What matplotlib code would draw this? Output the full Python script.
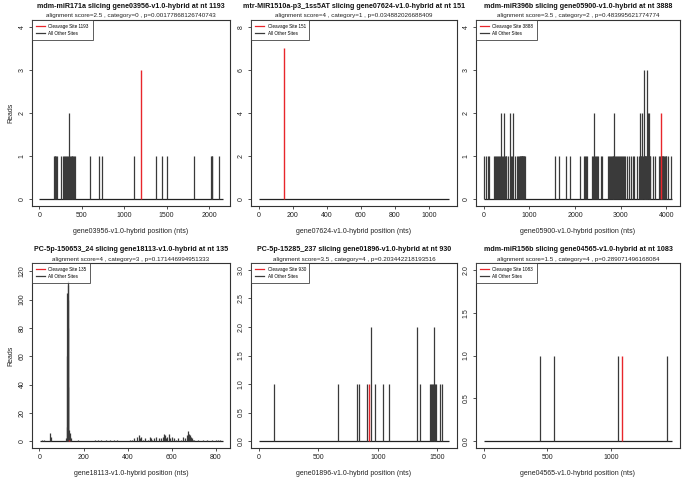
"""Six slicing t-plots (R type='h' style), reads per transcript position"""
import numpy as np
import matplotlib.pyplot as plt

plt.rcParams['font.family'] = ['Liberation Sans', 'DejaVu Sans']

# panel titles / subtitles / x labels
titles = ['mdm-miR171a slicing gene03956-v1.0-hybrid at nt 1193',
          'mtr-MIR1510a-p3_1ss5AT slicing gene07624-v1.0-hybrid at nt 151',
          'mdm-miR396b slicing gene05900-v1.0-hybrid at nt 3888',
          'PC-5p-150653_24 slicing gene18113-v1.0-hybrid at nt 135',
          'PC-5p-15285_237 slicing gene01896-v1.0-hybrid at nt 930',
          'mdm-miR156b slicing gene04565-v1.0-hybrid at nt 1083']
subtitles = ['alignment score=2.5 , category=0 , p=0.00177868126740743',
             'alignment score=4 , category=1 , p=0.034882026688409',
             'alignment score=3.5 , category=2 , p=0.483995621774774',
             'alignment score=4 , category=3 , p=0.171446994951333',
             'alignment score=3.5 , category=4 , p=0.203442218193516',
             'alignment score=1.5 , category=4 , p=0.289071496168084']
genes = ['gene03956', 'gene07624', 'gene05900', 'gene18113', 'gene01896', 'gene04565']
gene_len = [2160, 1120, 4130, 830, 1600, 1480]
cleave_site = [1193, 151, 3888, 135, 930, 1083]
cleave_reads = [3, 7, 2, 1, 1, 1]
ymax = [4, 8, 4, 121, 3, 2]
xstep = [500, 200, 1000, 200, 500, 500]
ystep = [1, 2, 1, 20, 0.5, 0.5]

# other sites (position, reads)
p1_pos = [170, 180, 190, 200, 210, 260, 280, 290, 300, 310, 330, 340, 350, 360, 370,
          380, 390, 400, 410, 420, 600, 700, 740, 1110, 1380, 1440, 1510, 1820, 2020,
          2030, 2040, 2120]
p1_reads = [1, 1, 1, 1, 1, 1, 1, 1, 1, 1, 1, 1, 2, 1, 1,
            1, 1, 1, 1, 1, 1, 1, 1, 1, 1, 1, 1, 1, 1,
            1, 1, 1]

p2_pos = []
p2_reads = []

p3_pos = [20, 50, 100, 110, 220, 260, 280, 300, 320, 340, 360, 385, 400, 420, 443, 460,
          480, 500, 540, 582, 600, 620, 647, 680, 740, 760, 780, 790, 800, 810, 820, 830,
          840, 850, 860, 870, 880, 890, 900, 1560, 1660, 1800, 1880, 2100, 2200, 2220,
          2240, 2260, 2380, 2400, 2421, 2440, 2460, 2480, 2500, 2560, 2600, 2720, 2740,
          2760, 2780, 2800, 2820, 2840, 2857, 2880, 2900, 2920, 2940, 2960, 2980, 3000,
          3020, 3040, 3060, 3100, 3140, 3180, 3220, 3260, 3300, 3360, 3400, 3417, 3430,
          3440, 3450, 3460, 3475, 3490, 3504, 3510, 3520, 3530, 3540, 3550, 3560, 3570,
          3584, 3600, 3610, 3620, 3630, 3640, 3700, 3740, 3840, 3860, 3880, 3900, 3910,
          3920, 3930, 3940, 3960, 3980, 4000, 4040, 4100]
p3_reads = [1, 1, 1, 1, 1, 1, 1, 1, 1, 1, 1, 2, 1, 1, 2, 1,
            1, 1, 1, 2, 1, 1, 2, 1, 1, 1, 1, 1, 1, 1, 1, 1,
            1, 1, 1, 1, 1, 1, 1, 1, 1, 1, 1, 1, 1, 1,
            1, 1, 1, 1, 2, 1, 1, 1, 1, 1, 1, 1, 1,
            1, 1, 1, 1, 1, 2, 1, 1, 1, 1, 1, 1, 1,
            1, 1, 1, 1, 1, 1, 1, 1, 1, 1, 1, 2, 1,
            1, 1, 1, 2, 1, 3, 1, 1, 1, 1, 1, 1, 1,
            3, 2, 1, 2, 1, 1, 1, 1, 1, 1, 1, 1, 1,
            1, 1, 1, 1, 1, 1, 1, 1]

p4_pos = [10, 20, 50, 52, 122, 124, 126, 127, 128, 129, 130, 131, 132, 133, 138, 140,
          142, 175, 250, 265, 280, 300, 320, 340, 350, 410, 420, 430, 440, 450, 455,
          460, 470, 480, 490, 500, 505, 510, 520, 530, 540, 550, 560, 565, 570, 575,
          580, 585, 590, 600, 610, 620, 630, 640, 650, 660, 670, 675, 678, 680, 685,
          690, 695, 700, 720, 740, 760, 780, 800, 810, 820]
p4_reads = [1, 1, 6, 3, 2, 10, 60, 105, 113, 110, 100, 80, 38, 8, 6, 3,
            2, 1, 1, 1, 1, 1, 1, 1, 1, 1, 1, 2, 3, 4, 2,
            3, 1, 2, 1, 3, 2, 1, 2, 3, 2, 2, 3, 5, 4, 2,
            3, 5, 2, 3, 2, 1, 2, 1, 3, 2, 4, 7, 5, 4, 3,
            2, 1, 1, 1, 1, 1, 1, 1, 1, 1]

p5_pos = [130, 667, 822, 844, 906, 945, 979, 1041, 1092, 1328, 1351, 1440, 1450, 1455,
          1460, 1470, 1475, 1480, 1490, 1520, 1542]
p5_reads = [1, 1, 1, 1, 1, 2, 1, 1, 1, 2, 1, 1, 1, 1,
            1, 1, 2, 1, 1, 1, 1]

p6_pos = [440, 550, 1050, 1440]
p6_reads = [1, 1, 1, 1]

other_pos = [p1_pos, p2_pos, p3_pos, p4_pos, p5_pos, p6_pos]
other_reads = [p1_reads, p2_reads, p3_reads, p4_reads, p5_reads, p6_reads]

# axes boxes in pixels: left, top, right, bottom
W, H = 686, 480
boxes = [(32, 20, 230, 206), (251, 20, 457, 206), (476, 20, 680, 206),
         (32, 263, 230, 448), (251, 263, 457, 448), (476, 263, 680, 448)]

fig = plt.figure(figsize=(W / 100, H / 100), dpi=100)
fig.patch.set_facecolor('white')

for i in range(6):
    l, t, r, b = boxes[i]
    ax = fig.add_axes([l / W, 1 - b / H, (r - l) / W, (b - t) / H])
    L = gene_len[i]
    # baseline along the whole transcript
    ax.hlines(0, 1, L, color='#222222', lw=0.9)
    ax.vlines(other_pos[i], 0, other_reads[i], color='#3a3a3a', lw=0.9)
    ax.vlines([cleave_site[i]], 0, [cleave_reads[i]], color='#e8262b', lw=1.0)
    ax.set_xlim(-0.04 * L, 1.04 * L)
    ax.set_ylim(-0.04 * ymax[i], 1.04 * ymax[i])
    ax.set_xticks(np.arange(0, L + 1, xstep[i]))
    yt = np.arange(0, ymax[i] + ystep[i] / 2, ystep[i])
    ax.set_yticks(yt)
    if ystep[i] < 1:
        ax.set_yticklabels(['%.1f' % v for v in yt])
    else:
        ax.set_yticklabels(['%d' % v for v in yt])
    ax.tick_params(axis='both', direction='out', length=2.5, width=0.6,
                   labelsize=5, pad=2, color='#333333', labelcolor='#222222')
    for lab in ax.get_yticklabels():
        lab.set_rotation(90)
        lab.set_va('center')
    for s in ax.spines.values():
        s.set_linewidth(0.8)
        s.set_color('#333333')
    ax.set_xlabel(genes[i] + '-v1.0-hybrid position (nts)', fontsize=5, labelpad=6,
                  color='#222222')
    if i % 3 == 0:
        ax.set_ylabel('Reads', fontsize=5, labelpad=3, color='#222222')
    cx = (l + r) / 2 / W
    fig.text(cx, 1 - (t - 14) / H, titles[i], ha='center', va='center',
             fontsize=5.1, fontweight='bold', color='#111111')
    fig.text(cx, 1 - (t - 4) / H, subtitles[i], ha='center', va='center',
             fontsize=4.5, color='#222222')
    leg = ax.legend(handles=[plt.Line2D([], [], color='#e8262b', lw=0.9),
                             plt.Line2D([], [], color='#3a3a3a', lw=0.9)],
                    labels=['Cleavage Site %d' % cleave_site[i], 'All Other Sites'],
                    loc='upper left', fontsize=3.3, frameon=True, fancybox=False,
                    borderaxespad=0, handlelength=2.0, borderpad=0.8,
                    labelspacing=0.5, handletextpad=0.8)
    leg.get_frame().set_edgecolor('#333333')
    leg.get_frame().set_linewidth(0.7)

fig.savefig('out.png', dpi=100)
